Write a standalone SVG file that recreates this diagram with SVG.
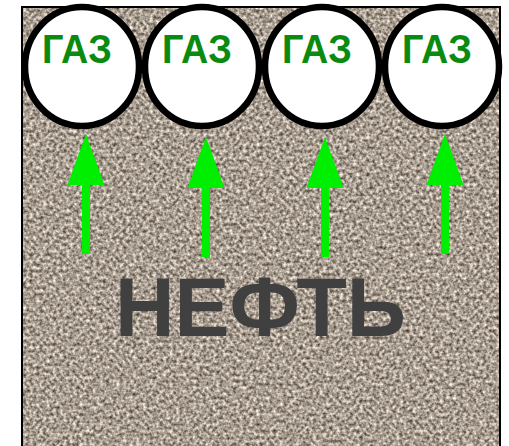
<svg xmlns="http://www.w3.org/2000/svg" width="509" height="446" viewBox="0 0 509 446">
  <style>
    .gas circle, .gas ellipse { fill: #ffffff; stroke: #000000; stroke-width: 6.5; }
    .gas text { font-family: "Liberation Sans", Arial, sans-serif; font-weight: bold; font-size: 40px; fill: #0a8a10; text-anchor: middle; }
    .arrow { fill: #00ee00; stroke: none; }
    .oil { font-family: "Liberation Sans", Arial, sans-serif; font-weight: bold; font-size: 84px; fill: #404040; text-anchor: middle; }
  </style>
  <defs>
    <filter id="grain" x="0" y="0" width="100%" height="100%" filterUnits="objectBoundingBox" color-interpolation-filters="sRGB">
      <feTurbulence type="fractalNoise" baseFrequency="0.3" numOctaves="2" seed="7" result="n"/>
      <feColorMatrix in="n" type="matrix" values="1.05 0 0 0 0.135  1.05 0 0 0 0.09  1.05 0 0 0 0.045  0 0 0 0 1"/>
    </filter>
    <path id="arrowShape" d="M0,0 L18.5,51 L4,51 L4,120 L-4,120 L-4,51 L-18.5,51 Z"/>
  </defs>

  <g id="background">
    <rect x="22" y="7" width="478" height="460" fill="#a89c90"/>
    <rect x="22" y="7" width="478" height="460" filter="url(#grain)"/>
    <rect x="22" y="7" width="478" height="460" fill="none" stroke="#000000" stroke-width="2"/>
  </g>

  <g id="connectors">
    <use href="#arrowShape" class="arrow" x="86" y="134"/>
    <use href="#arrowShape" class="arrow" x="206" y="137"/>
    <use href="#arrowShape" class="arrow" x="325" y="137"/>
    <use href="#arrowShape" class="arrow" x="445" y="134"/>
  </g>

  <g id="gas1" class="gas">
    <ellipse cx="82" cy="66.5" rx="57" ry="59.5"/>
    <text x="77" y="63" textLength="70" lengthAdjust="spacingAndGlyphs">ГАЗ</text>
  </g>
  <g id="gas2" class="gas">
    <ellipse cx="202" cy="66.5" rx="57" ry="59.5"/>
    <text x="197" y="63" textLength="70" lengthAdjust="spacingAndGlyphs">ГАЗ</text>
  </g>
  <g id="gas3" class="gas">
    <ellipse cx="322" cy="66.5" rx="57" ry="59.5"/>
    <text x="317" y="63" textLength="70" lengthAdjust="spacingAndGlyphs">ГАЗ</text>
  </g>
  <g id="gas4" class="gas">
    <ellipse cx="442" cy="66.5" rx="57" ry="59.5"/>
    <text x="437" y="63" textLength="70" lengthAdjust="spacingAndGlyphs">ГАЗ</text>
  </g>

  <g id="oil">
    <text class="oil" x="260.5" y="336" textLength="291" lengthAdjust="spacingAndGlyphs">НЕФТЬ</text>
  </g>
</svg>
